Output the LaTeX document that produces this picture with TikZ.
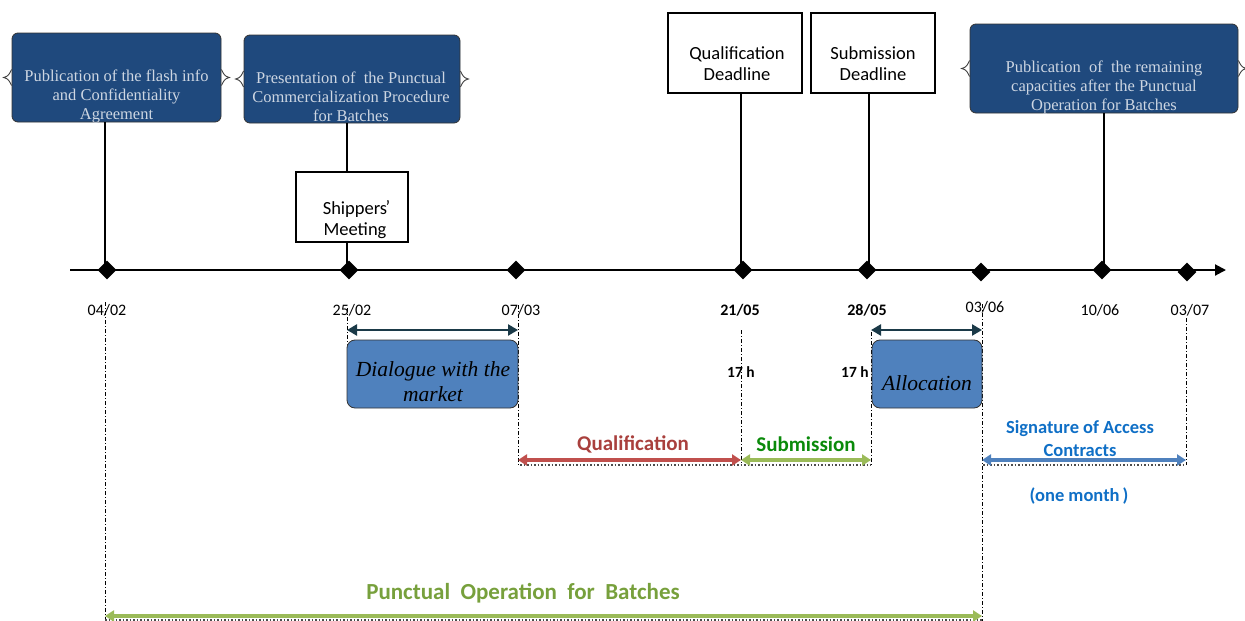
\documentclass[tikz,border=0pt]{standalone}
\usepackage{fontspec}
\setmainfont{Liberation Serif}
\newfontfamily\carlitofont{Carlito}
\usetikzlibrary{arrows.meta,shapes.geometric}
\definecolor{darkbox}{HTML}{1F497D}
\definecolor{boxtext}{HTML}{CDD6E2}
\definecolor{midblue}{HTML}{4F81BD}
\definecolor{darkteal}{HTML}{1B3A48}
\definecolor{qred}{HTML}{C0504D}
\definecolor{qtext}{HTML}{A9403D}
\definecolor{sgreen}{HTML}{9BBB59}
\definecolor{stext}{HTML}{0A8A0A}
\definecolor{ptext}{HTML}{77A03C}
\definecolor{sigblue}{HTML}{0F6FC6}
\tikzset{
  darkbox/.style={draw=black!80, line width=0.8pt, fill=darkbox, rounded corners=6pt, inner sep=0pt},
  darktext/.style={text=boxtext, align=center, font=\fontsize{16.5}{19}\selectfont, inner sep=0pt},
  whitebox/.style={draw=black, line width=1.5pt, fill=white, inner sep=0pt},
  whitetext/.style={align=center, font=\carlitofont\fontsize{18.5}{21}\selectfont, inner sep=0pt},
  phasebox/.style={draw=black!80, line width=0.8pt, fill=midblue, rounded corners=8pt, inner sep=0pt},
  phasetext/.style={align=center, font=\itshape\fontsize{21.5}{25}\selectfont, inner sep=0pt},
  dmd/.style={diamond, fill=black, minimum size=19pt, inner sep=0pt},
  datelbl/.style={font=\carlitofont\fontsize{16}{18}\selectfont},
  boldlbl/.style={font=\carlitofont\bfseries\fontsize{16}{18}\selectfont},
  stem/.style={line width=1.8pt},
  guide/.style={dash pattern=on 4pt off 2pt on 1pt off 2pt, line width=1pt},
  spanarrow/.style={line width=3.2pt, {Triangle[length=9pt,width=11pt]}-{Triangle[length=9pt,width=11pt]}},
  darkarrow/.style={line width=2.4pt, darkteal, {Triangle[length=10pt,width=11pt]}-{Triangle[length=10pt,width=11pt]}},
  dotline/.style={dotted, line width=1.5pt, black!70},
  tip/.style={line width=0.9pt, black!75}
}
\begin{document}
\begin{tikzpicture}[x=1pt,y=-1pt]
\useasboundingbox (0,0) rectangle (1245,621);

% timeline
\coordinate (tl0) at (70,270);
\coordinate (tl1) at (1226,270);
\draw[line width=2pt, -{Triangle[length=11pt,width=11pt]}] (tl0) -- (tl1);

% top boxes
\node[darkbox, minimum width=209pt, minimum height=89pt] (b1) at (116.5,77.5) {};
\node[darktext] (b1t) at (116.5,96) {Publication of the flash info\\and Confidentiality\\Agreement};
\node[darkbox, minimum width=216pt, minimum height=88pt] (b2) at (352,79) {};
\node[darktext] (b2t) at (351,97) {Presentation of \ the Punctual\\Commercialization Procedure\\for Batches};
\node[darkbox, minimum width=268pt, minimum height=89pt] (b3) at (1104,68.5) {};
\node[darktext] (b3t) at (1104,87) {Publication \ of \ the remaining\\capacities after the Punctual\\Operation for Batches};

% brace tips
\foreach \b in {b1,b2,b3}{
  \draw[tip] (\b.west) ++(0,-8) .. controls +(-2,4) and +(5,-1) .. ++(-8,8) .. controls +(5,1) and +(-2,-4) .. ++(8,8);
  \draw[tip] (\b.east) ++(0,-8) .. controls +(2,4) and +(-5,-1) .. ++(8,8) .. controls +(-5,1) and +(2,-4) .. ++(-8,8);
}

\node[whitebox, minimum width=112pt, minimum height=70pt] (ship) at (352,207) {};
\node[whitetext] (shipt) at (355,220) {Shippers\rlap{\raisebox{1pt}{\kern-1.5pt\char"2019}}\\Meeting};
\node[whitebox, minimum width=134pt, minimum height=80pt] (qd) at (735,53) {};
\node[whitetext] (qdt) at (737,64) {Qualification\\Deadline};
\node[whitebox, minimum width=124pt, minimum height=80pt] (sd) at (873,53) {};
\node[whitetext] (sdt) at (873,64) {Submission\\Deadline};

% diamonds
\node[dmd] (d1) at (107,270) {};
\node[dmd] (d2) at (349,270) {};
\node[dmd] (d3) at (516,270) {};
\node[dmd] (d4) at (743,270) {};
\node[dmd] (d5) at (867,270) {};
\node[dmd] (d6) at (981,272) {};
\node[dmd] (d7) at (1102,270) {};
\node[dmd] (d8) at (1187,272) {};

% stems
\draw[stem] (b1.south -| 105,0) -- (105,270);
\draw[stem] (b2.south -| 347,0) -- (ship.north -| 347,0);
\draw[stem] (ship.south -| 347,0) -- (347,270);
\draw[stem] (qd.south -| 741,0) -- (741,270);
\draw[stem] (sd.south -| 869,0) -- (869,270);
\draw[stem] (b3.south -| 1104,0) -- (1104,270);

% dates
\node[datelbl] (t1) at (107,310) {04/02};
\node[datelbl] (t2) at (352,310) {25/02};
\node[datelbl] (t3) at (521,310) {07/03};
\node[boldlbl] (t4) at (740,310) {21/05};
\node[boldlbl] (t5) at (867,310) {28/05};
\node[datelbl] (t6) at (985,307) {03/06};
\node[datelbl] (t7) at (1100,310) {10/06};
\node[datelbl] (t8) at (1190,310) {03/07};

% guides
\coordinate (g1a) at (105,302); \coordinate (g1b) at (105,621);
\coordinate (g2a) at (347,308); \coordinate (g2b) at (347,345);
\coordinate (g3a) at (518,305); \coordinate (g3b) at (518,465);
\coordinate (g4a) at (741,330); \coordinate (g4b) at (741,465);
\coordinate (g5a) at (871,332); \coordinate (g5b) at (871,465);
\coordinate (g6a) at (982,304); \coordinate (g6b) at (982,621);
\coordinate (g8a) at (1186,318); \coordinate (g8b) at (1186,465);
\foreach \g in {1,2,3,4,5,6,8} \draw[guide] (g\g a) -- (g\g b);

% dark arrows
\draw[darkarrow] (g2a |- 0,330) -- (g3a |- 0,330);
\draw[darkarrow] (g5a |- 0,330) -- (g6a |- 0,330);

% phase boxes
\node[phasebox, minimum width=171pt, minimum height=68pt] (dlg) at (432.5,374) {};
\node[phasetext] (dlgt) at (433,382) {Dialogue with the\\market};
\node[phasebox, minimum width=110pt, minimum height=68pt] (alc) at (927,374) {};
\node[phasetext] (alct) at (927,383) {Allocation};

\node[font=\carlitofont\bfseries\fontsize{15.5}{17}\selectfont] (h1) at (741,372) {17 h};
\node[font=\carlitofont\bfseries\fontsize{15.5}{17}\selectfont] (h2) at (855,372) {17 h};

% coloured spans
\draw[dotline] (520,465) -- (871,465);
\draw[dotline] (983,465) -- (1186,465);
\draw[dotline] (105,620) -- (982,620);
\draw[spanarrow, qred] (g3b |- 0,460) -- (g4b |- 0,460);
\draw[spanarrow, sgreen] (g4b |- 0,460) -- (g5b |- 0,460);
\draw[spanarrow, midblue] (g6b |- 0,460) -- (g8b |- 0,460);
\draw[spanarrow, sgreen] (g1b |- 0,616) -- (g6b |- 0,616);

\node[font=\carlitofont\bfseries\fontsize{21}{24}\selectfont, text=qtext] (ql) at (633,444) {Qualification};
\node[font=\carlitofont\bfseries\fontsize{21}{24}\selectfont, text=stext] (sl) at (806,444) {Submission};
\node[font=\carlitofont\bfseries\fontsize{18.5}{23}\selectfont, text=sigblue, align=center] (sg) at (1080,439) {Signature of Access\\Contracts};
\node[font=\carlitofont\bfseries\fontsize{18.5}{21}\selectfont, text=sigblue] (om) at (1079,496) {(one month\,)};
\node[font=\carlitofont\bfseries\fontsize{23}{26}\selectfont, text=ptext] (pl) at (523,593) {Punctual \ Operation \ for \ Batches};
\end{tikzpicture}
\end{document}
